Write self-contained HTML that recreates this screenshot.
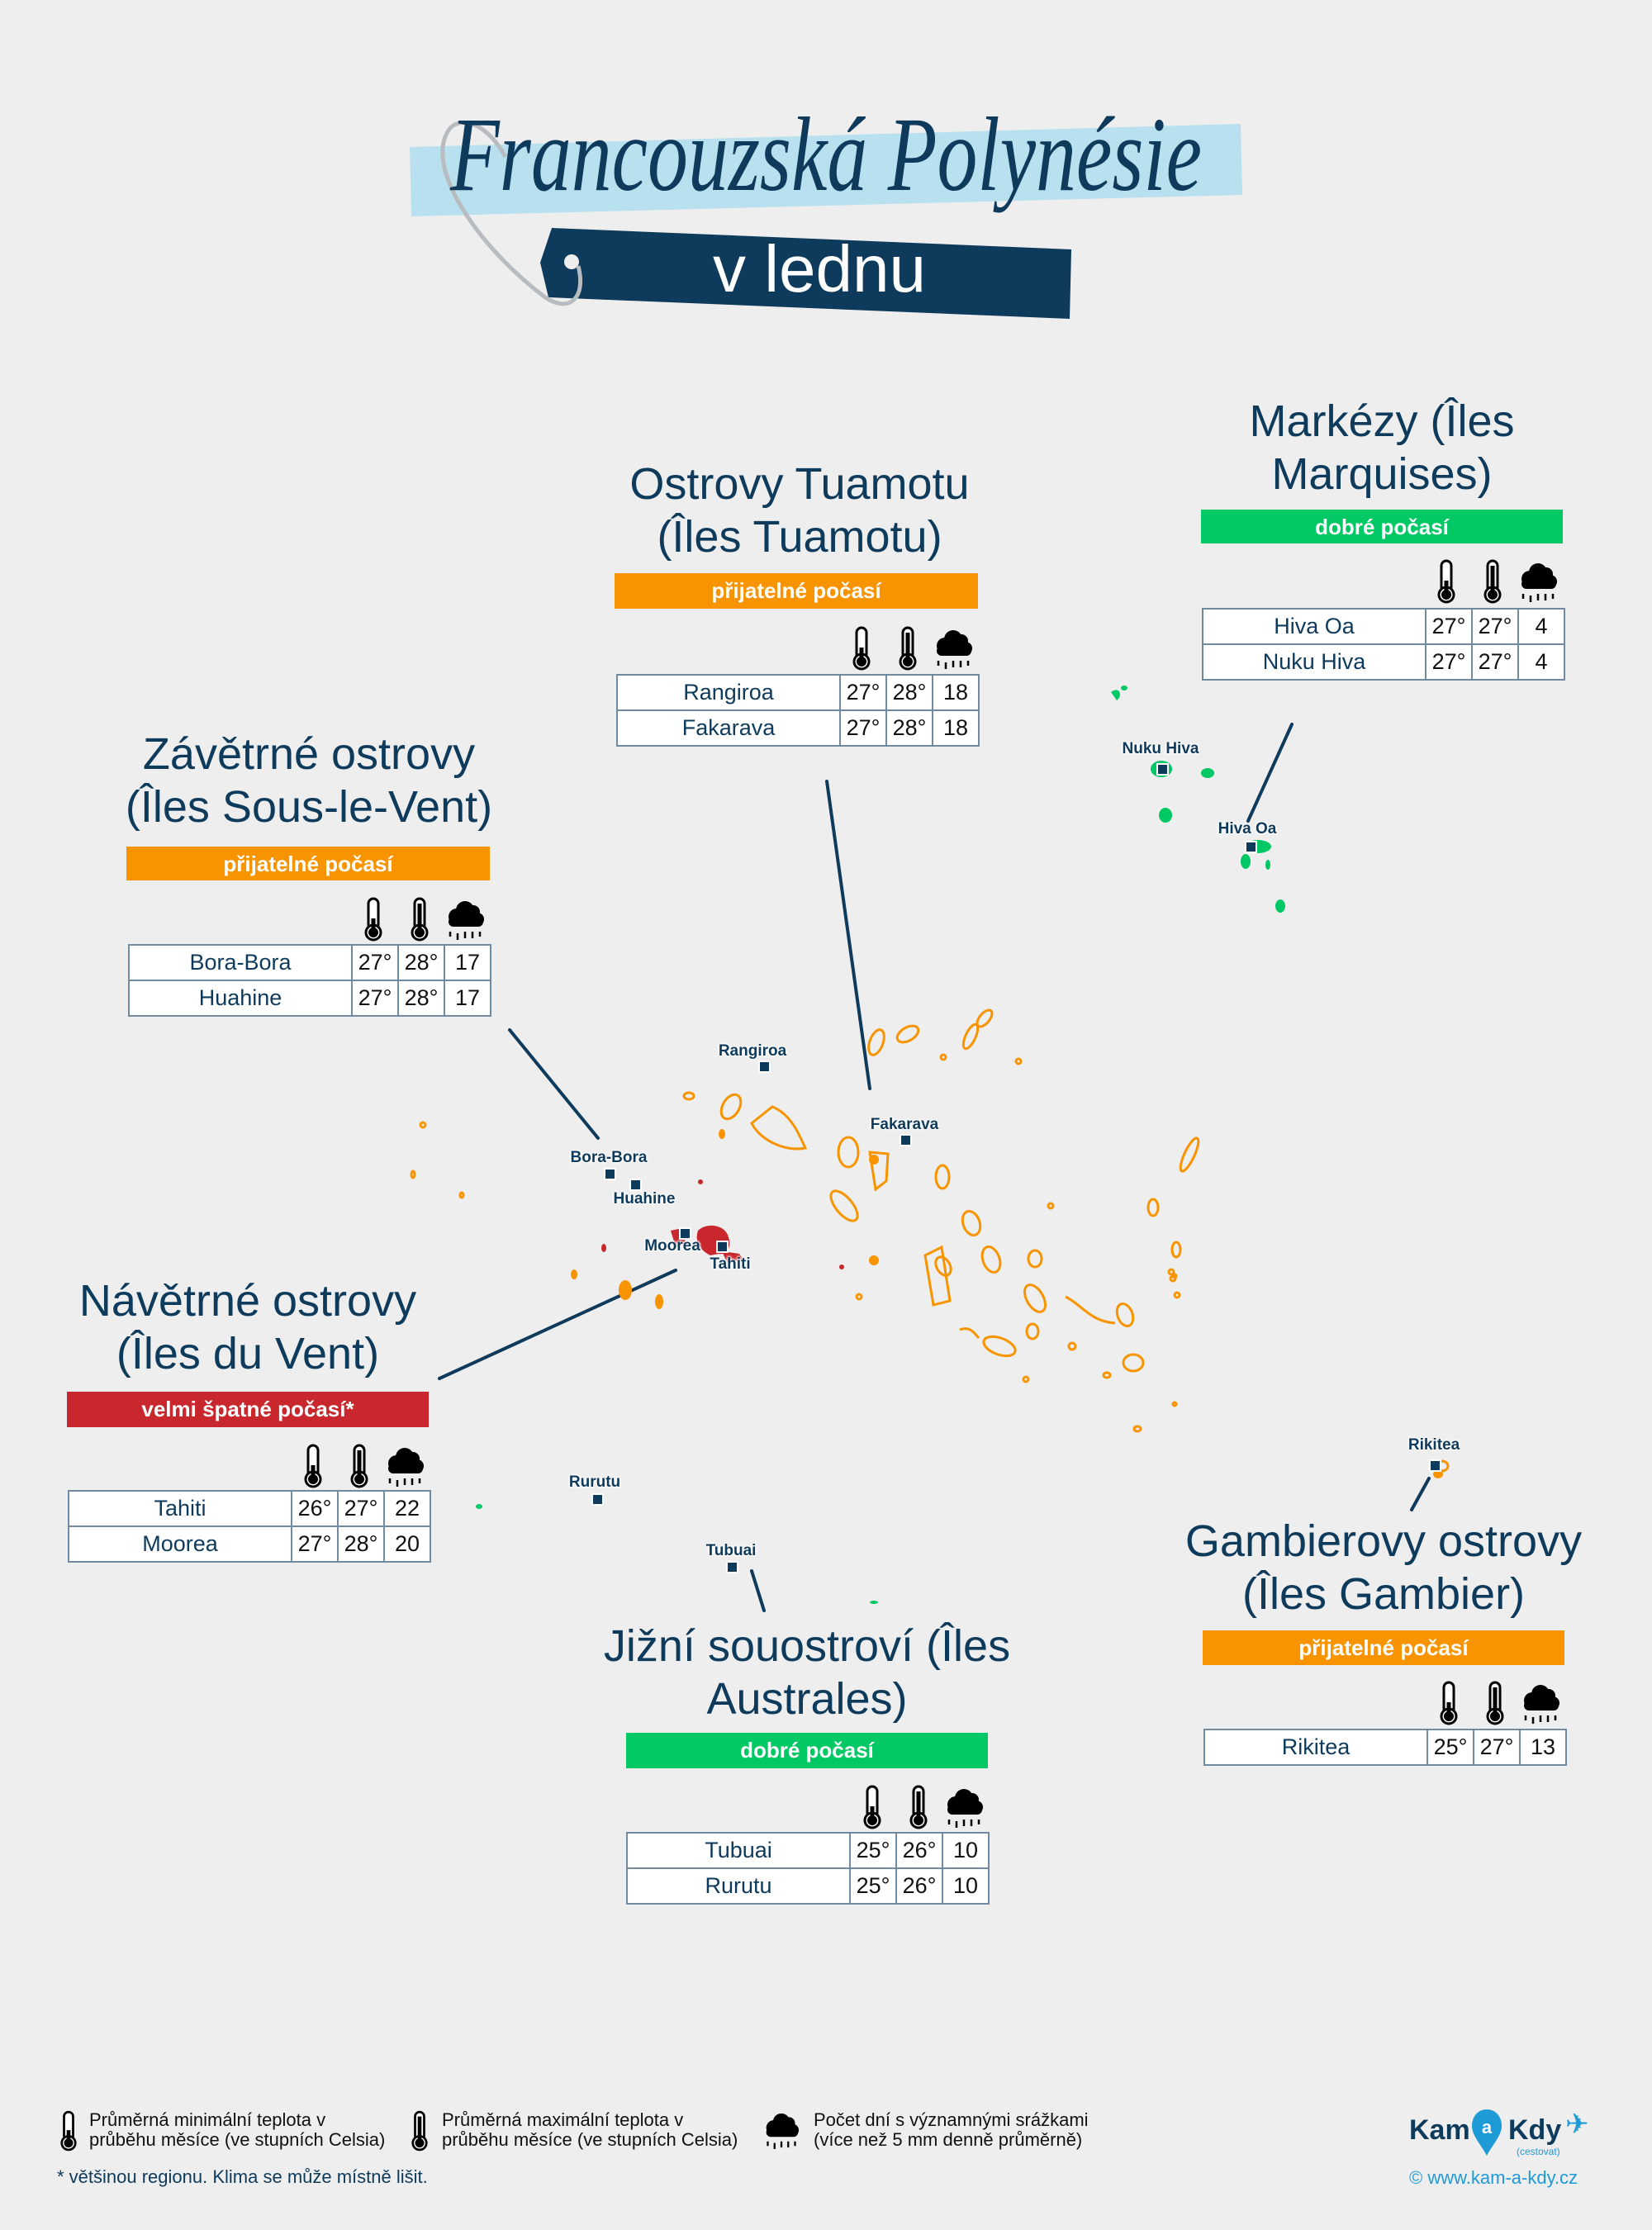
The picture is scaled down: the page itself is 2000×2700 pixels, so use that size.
<!DOCTYPE html>
<html><head><meta charset="utf-8">
<style>
body{margin:0;width:2000px;height:2700px;background:#eeeeee;position:relative;overflow:hidden;font-family:"Liberation Sans","DejaVu Sans",sans-serif;color:#0e3a5b}
.a{position:absolute}
.h{position:absolute;text-align:center;font-size:54px;line-height:64px;color:#0e3a5b;white-space:nowrap}
.band{position:absolute;color:#fff;font-weight:bold;font-size:26px;text-align:center;line-height:42px}
.o{background:#f79400}.g{background:#00c864}.r{background:#c8282d}
table{position:absolute;border-collapse:collapse;background:#fff;font-size:27px;color:#0e3a5b}
td{border:2px solid #6f8aa1;height:41px;padding:0;text-align:center}
td.n{width:268px}td.v{width:54px;color:#111}
.ml{position:absolute;font-weight:bold;font-size:19px;color:#0e3a5b;white-space:nowrap;text-shadow:0 0 3px #fff,0 0 3px #fff,0 0 3px #fff,0 0 3px #fff;transform:translateX(-50%)}
.mk{position:absolute;width:11px;height:11px;background:#0e3a5b;border:2px solid #fff}
.lg{position:absolute;font-size:22px;line-height:24px;color:#111}
</style></head><body>

<!-- Title -->
<svg class="a" style="left:0;top:0" width="2000" height="420">
<polygon points="496,178 1502,150 1504,236 498,262" fill="#b9e0ee"/>
<polygon points="668,276 1297,302 1295,386 664,360 654,318" fill="#0e3a5b"/>
<circle cx="692" cy="317" r="9" fill="#eee"/>
<path d="M700,322 C710,360 690,380 660,360 C580,300 510,200 545,155 C560,140 590,150 612,190" fill="none" stroke="#b8bcc0" stroke-width="5"/>
<text x="1000" y="230" text-anchor="middle" font-family="Liberation Serif,serif" font-style="italic" font-size="128" fill="#0e3a5b" textLength="910" lengthAdjust="spacingAndGlyphs">Francouzská  Polynésie</text>
<text x="992" y="353" text-anchor="middle" font-family="Liberation Sans,sans-serif" font-size="80" fill="#fff">v lednu</text>
</svg>

<svg width="0" height="0" style="position:absolute">
<defs>
<symbol id="tmin" viewBox="0 0 24 54"><rect x="6" y="2" width="12" height="38" rx="6" fill="#fff" stroke="#000" stroke-width="3"/><circle cx="12" cy="43" r="9" fill="#fff" stroke="#000" stroke-width="3"/><circle cx="12" cy="43" r="6" fill="#000"/><rect x="9.5" y="26" width="5" height="16" fill="#000"/></symbol>
<symbol id="tmax" viewBox="0 0 24 54"><rect x="6" y="2" width="12" height="38" rx="6" fill="#fff" stroke="#000" stroke-width="3"/><circle cx="12" cy="43" r="9" fill="#fff" stroke="#000" stroke-width="3"/><circle cx="12" cy="43" r="6" fill="#000"/><rect x="9.5" y="8" width="5" height="34" fill="#000"/></symbol>
<symbol id="rain" viewBox="0 0 48 54"><circle cx="14" cy="24" r="10" fill="#000"/><circle cx="24" cy="16" r="11" fill="#000"/><circle cx="34" cy="18" r="8" fill="#000"/><circle cx="39" cy="27" r="8" fill="#000"/><rect x="4" y="24" width="42" height="12" rx="6" fill="#000"/><g stroke="#000" stroke-width="2.5"><line x1="6" y1="42" x2="6" y2="48"/><line x1="15" y1="44" x2="15" y2="52"/><line x1="24" y1="42" x2="24" y2="50"/><line x1="33" y1="42" x2="33" y2="50"/><line x1="42" y1="42" x2="42" y2="48"/></g></symbol>
</defs></svg>

<!-- Connectors and map -->
<svg class="a" style="left:0;top:0" width="2000" height="2400">
<g stroke="#0e3a5b" stroke-width="4" stroke-linecap="round">
<line x1="1001" y1="946" x2="1053" y2="1318"/>
<line x1="1564" y1="877" x2="1511" y2="994"/>
<line x1="617" y1="1247" x2="724" y2="1378"/>
<line x1="532" y1="1669" x2="818" y2="1538"/>
<line x1="1709" y1="1828" x2="1730" y2="1790"/>
<line x1="910" y1="1902" x2="925" y2="1950"/>
</g>
<g fill="none" stroke="#f79400" stroke-width="3">
<ellipse cx="834" cy="1327" rx="6" ry="4"/>
<ellipse cx="885" cy="1340" rx="10" ry="16" transform="rotate(30 885 1340)"/>
<path d="M935,1340 C960,1350 970,1380 975,1390 C950,1395 920,1380 910,1360 Z"/>
<ellipse cx="1061" cy="1262" rx="8" ry="16" transform="rotate(20 1061 1262)"/>
<ellipse cx="1099" cy="1252" rx="14" ry="8" transform="rotate(-30 1099 1252)"/>
<ellipse cx="1175" cy="1255" rx="6" ry="16" transform="rotate(25 1175 1255)"/>
<ellipse cx="1192" cy="1233" rx="6" ry="12" transform="rotate(40 1192 1233)"/>
<ellipse cx="1027" cy="1395" rx="12" ry="18"/>
<path d="M1053,1395 L1075,1397 L1073,1430 L1060,1440 Z"/>
<ellipse cx="1022" cy="1460" rx="10" ry="22" transform="rotate(-40 1022 1460)"/>
<ellipse cx="1141" cy="1425" rx="8" ry="14"/>
<ellipse cx="1176" cy="1481" rx="10" ry="15" transform="rotate(-20 1176 1481)"/>
<path d="M1120,1520 L1130,1580 L1150,1575 L1140,1510 Z"/>
<ellipse cx="1200" cy="1525" rx="10" ry="16" transform="rotate(-20 1200 1525)"/>
<ellipse cx="1253" cy="1572" rx="10" ry="18" transform="rotate(-30 1253 1572)"/>
<ellipse cx="1250" cy="1612" rx="7" ry="9"/>
<path d="M1290,1570 C1310,1580 1320,1600 1350,1602"/>
<path d="M1162,1610 C1175,1605 1180,1615 1185,1620"/>
<ellipse cx="1210" cy="1630" rx="20" ry="10" transform="rotate(20 1210 1630)"/>
<ellipse cx="1362" cy="1592" rx="9" ry="14" transform="rotate(-20 1362 1592)"/>
<ellipse cx="1372" cy="1650" rx="12" ry="10"/>
<ellipse cx="1440" cy="1398" rx="6" ry="22" transform="rotate(25 1440 1398)"/>
<ellipse cx="1396" cy="1462" rx="6" ry="10"/>
<ellipse cx="1424" cy="1513" rx="5" ry="9"/>
<ellipse cx="1142" cy="1533" rx="8" ry="12" transform="rotate(-30 1142 1533)"/>
<ellipse cx="1253" cy="1524" rx="8" ry="10"/>
<ellipse cx="1272" cy="1460" rx="3" ry="3"/>
<ellipse cx="1233" cy="1285" rx="3" ry="3"/>
<ellipse cx="1425" cy="1568" rx="3" ry="3"/>
<ellipse cx="1418" cy="1540" rx="3" ry="3"/>
<ellipse cx="1420" cy="1548" rx="3" ry="3"/>
<ellipse cx="1377" cy="1730" rx="4" ry="3"/>
<ellipse cx="1242" cy="1670" rx="3" ry="3"/>
<ellipse cx="1298" cy="1630" rx="4" ry="4"/>
<ellipse cx="1340" cy="1665" rx="4" ry="3"/>
<ellipse cx="1422" cy="1545" rx="2" ry="2"/>
<ellipse cx="1422" cy="1700" rx="2" ry="2"/>
<ellipse cx="1040" cy="1570" rx="3" ry="3"/>
<ellipse cx="1746" cy="1775" rx="7" ry="6"/>
<ellipse cx="512" cy="1362" rx="3" ry="3"/>
<ellipse cx="500" cy="1422" rx="2" ry="4"/>
<ellipse cx="559" cy="1447" rx="2" ry="3"/>
<ellipse cx="1142" cy="1280" rx="3" ry="3"/>
</g>
<g fill="#f79400">
<ellipse cx="874" cy="1373" rx="4" ry="6"/>
<ellipse cx="1058" cy="1404" rx="6" ry="6"/>
<ellipse cx="1058" cy="1526" rx="6" ry="6"/>
<ellipse cx="757" cy="1562" rx="8" ry="12"/>
<ellipse cx="798" cy="1576" rx="5" ry="9"/>
<ellipse cx="695" cy="1543" rx="4" ry="6"/>
<ellipse cx="1741" cy="1785" rx="6" ry="5"/>
</g>
<g fill="#c8282d">
<path d="M812,1490 L826,1487 L830,1505 L818,1510 Z"/>
<path d="M845,1490 C855,1480 878,1482 882,1498 C886,1510 880,1520 870,1518 L860,1520 C850,1515 840,1505 845,1490 Z"/>
<path d="M874,1515 L895,1518 L900,1525 L880,1528 Z"/>
<ellipse cx="731" cy="1511" rx="3" ry="5"/>
<ellipse cx="848" cy="1431" rx="3" ry="3"/>
<ellipse cx="1019" cy="1534" rx="3" ry="3"/>
</g>
<g fill="#00c864">
<path d="M1345,838 C1355,830 1360,842 1352,848 Z"/><ellipse cx="1361" cy="833" rx="4" ry="3"/>
<ellipse cx="1406" cy="931" rx="13" ry="10"/>
<ellipse cx="1462" cy="936" rx="8" ry="6"/>
<ellipse cx="1411" cy="987" rx="8" ry="9"/>
<ellipse cx="1523" cy="1025" rx="16" ry="8"/>
<ellipse cx="1508" cy="1043" rx="6" ry="9"/>
<ellipse cx="1535" cy="1047" rx="3" ry="6"/>
<ellipse cx="1550" cy="1097" rx="6" ry="8"/>
<ellipse cx="580" cy="1824" rx="4" ry="3"/>
<ellipse cx="1058" cy="1940" rx="5" ry="2"/>
</g>
</svg>

<!-- map labels -->
<div class="ml" style="left:1405px;top:896px">Nuku Hiva</div><div class="mk" style="left:1400px;top:924px"></div>
<div class="ml" style="left:1510px;top:993px">Hiva Oa</div><div class="mk" style="left:1507px;top:1018px"></div>
<div class="ml" style="left:911px;top:1262px">Rangiroa</div><div class="mk" style="left:918px;top:1284px"></div>
<div class="ml" style="left:1095px;top:1351px">Fakarava</div><div class="mk" style="left:1089px;top:1373px"></div>
<div class="ml" style="left:737px;top:1391px">Bora-Bora</div><div class="mk" style="left:731px;top:1414px"></div>
<div class="ml" style="left:780px;top:1441px">Huahine</div><div class="mk" style="left:762px;top:1427px"></div>
<div class="ml" style="left:814px;top:1498px">Moorea</div><div class="mk" style="left:822px;top:1486px"></div>
<div class="ml" style="left:884px;top:1520px">Tahiti</div><div class="mk" style="left:867px;top:1502px"></div>
<div class="ml" style="left:720px;top:1784px">Rurutu</div><div class="mk" style="left:716px;top:1808px"></div>
<div class="ml" style="left:885px;top:1867px">Tubuai</div><div class="mk" style="left:879px;top:1890px"></div>
<div class="ml" style="left:1736px;top:1739px">Rikitea</div><div class="mk" style="left:1730px;top:1767px"></div>

<!-- Tuamotu -->
<div class="h" style="left:668px;width:600px;top:554px">Ostrovy Tuamotu<br>(Îles Tuamotu)</div>
<div class="band o" style="left:744px;top:694px;width:440px;height:43px">přijatelné počasí</div>
<svg class="a" style="left:1030px;top:758px" width="26" height="54"><use href="#tmin"/></svg>
<svg class="a" style="left:1086px;top:758px" width="26" height="54"><use href="#tmax"/></svg>
<svg class="a" style="left:1130px;top:758px" width="48" height="54"><use href="#rain"/></svg>
<table style="left:746px;top:816px"><tr><td class="n">Rangiroa</td><td class="v">27°</td><td class="v">28°</td><td class="v">18</td></tr><tr><td class="n">Fakarava</td><td class="v">27°</td><td class="v">28°</td><td class="v">18</td></tr></table>

<!-- Markezy -->
<div class="h" style="left:1373px;width:600px;top:478px">Markézy (Îles<br>Marquises)</div>
<div class="band g" style="left:1454px;top:617px;width:438px;height:41px">dobré počasí</div>
<svg class="a" style="left:1738px;top:677px" width="26" height="54"><use href="#tmin"/></svg>
<svg class="a" style="left:1794px;top:677px" width="26" height="54"><use href="#tmax"/></svg>
<svg class="a" style="left:1838px;top:677px" width="48" height="54"><use href="#rain"/></svg>
<table style="left:1455px;top:736px"><tr><td class="n">Hiva Oa</td><td class="v">27°</td><td class="v">27°</td><td class="v">4</td></tr><tr><td class="n">Nuku Hiva</td><td class="v">27°</td><td class="v">27°</td><td class="v">4</td></tr></table>

<!-- Zavetrne -->
<div class="h" style="left:74px;width:600px;top:881px">Závětrné ostrovy<br>(Îles Sous-le-Vent)</div>
<div class="band o" style="left:153px;top:1025px;width:440px;height:41px">přijatelné počasí</div>
<svg class="a" style="left:439px;top:1086px" width="26" height="54"><use href="#tmin"/></svg>
<svg class="a" style="left:495px;top:1086px" width="26" height="54"><use href="#tmax"/></svg>
<svg class="a" style="left:539px;top:1086px" width="48" height="54"><use href="#rain"/></svg>
<table style="left:155px;top:1143px"><tr><td class="n">Bora-Bora</td><td class="v">27°</td><td class="v">28°</td><td class="v">17</td></tr><tr><td class="n">Huahine</td><td class="v">27°</td><td class="v">28°</td><td class="v">17</td></tr></table>

<!-- Navetrne -->
<div class="h" style="left:0px;width:600px;top:1543px">Návětrné ostrovy<br>(Îles du Vent)</div>
<div class="band r" style="left:81px;top:1685px;width:438px;height:43px">velmi špatné počasí*</div>
<svg class="a" style="left:366px;top:1748px" width="26" height="54"><use href="#tmin"/></svg>
<svg class="a" style="left:422px;top:1748px" width="26" height="54"><use href="#tmax"/></svg>
<svg class="a" style="left:466px;top:1748px" width="48" height="54"><use href="#rain"/></svg>
<table style="left:82px;top:1804px"><tr><td class="n">Tahiti</td><td class="v">26°</td><td class="v">27°</td><td class="v">22</td></tr><tr><td class="n">Moorea</td><td class="v">27°</td><td class="v">28°</td><td class="v">20</td></tr></table>

<!-- Gambier -->
<div class="h" style="left:1375px;width:600px;top:1834px">Gambierovy ostrovy<br>(Îles Gambier)</div>
<div class="band o" style="left:1456px;top:1974px;width:438px;height:42px">přijatelné počasí</div>
<svg class="a" style="left:1741px;top:2035px" width="26" height="54"><use href="#tmin"/></svg>
<svg class="a" style="left:1797px;top:2035px" width="26" height="54"><use href="#tmax"/></svg>
<svg class="a" style="left:1841px;top:2035px" width="48" height="54"><use href="#rain"/></svg>
<table style="left:1457px;top:2093px"><tr><td class="n">Rikitea</td><td class="v">25°</td><td class="v">27°</td><td class="v">13</td></tr></table>

<!-- Australes -->
<div class="h" style="left:677px;width:600px;top:1961px">Jižní souostroví (Îles<br>Australes)</div>
<div class="band g" style="left:758px;top:2098px;width:438px;height:43px">dobré počasí</div>
<svg class="a" style="left:1043px;top:2161px" width="26" height="54"><use href="#tmin"/></svg>
<svg class="a" style="left:1099px;top:2161px" width="26" height="54"><use href="#tmax"/></svg>
<svg class="a" style="left:1143px;top:2161px" width="48" height="54"><use href="#rain"/></svg>
<table style="left:758px;top:2218px"><tr><td class="n">Tubuai</td><td class="v">25°</td><td class="v">26°</td><td class="v">10</td></tr><tr><td class="n">Rurutu</td><td class="v">25°</td><td class="v">26°</td><td class="v">10</td></tr></table>

<!-- Legend -->
<svg class="a" style="left:72px;top:2555px" width="22" height="50"><use href="#tmin"/></svg>
<div class="lg" style="left:108px;top:2555px">Průměrná minimální teplota v<br>průběhu měsíce (ve stupních Celsia)</div>
<svg class="a" style="left:497px;top:2555px" width="22" height="50"><use href="#tmax"/></svg>
<div class="lg" style="left:535px;top:2555px">Průměrná maximální teplota v<br>průběhu měsíce (ve stupních Celsia)</div>
<svg class="a" style="left:924px;top:2554px" width="44" height="50"><use href="#rain"/></svg>
<div class="lg" style="left:985px;top:2555px">Počet dní s významnými srážkami<br>(více než 5 mm denně průměrně)</div>
<div class="lg" style="left:69px;top:2624px;color:#0e3a5b">* většinou regionu. Klima se může místně lišit.</div>

<!-- Logo -->
<div class="a" style="left:1706px;top:2560px;font-size:34px;font-weight:bold;color:#0e3a5b">Kam</div>
<svg class="a" style="left:1780px;top:2552px" width="40" height="60"><path d="M20,2 C32,2 38,12 38,22 C38,34 26,46 20,58 C14,46 2,34 2,22 C2,12 8,2 20,2 Z" fill="#1e9ad6"/><text x="20" y="31" text-anchor="middle" font-size="22" font-weight="bold" fill="#fff" font-family="Liberation Sans">a</text></svg>
<div class="a" style="left:1826px;top:2560px;font-size:34px;font-weight:bold;color:#0e3a5b">Kdy</div>
<div class="a" style="left:1836px;top:2598px;font-size:12px;color:#1e9ad6">(cestovat)</div>
<div class="a" style="left:1895px;top:2552px;font-size:34px;color:#1e9ad6">✈</div>
<div class="a" style="left:1706px;top:2624px;font-size:22px;color:#1e9ad6">© www.kam-a-kdy.cz</div>
</body></html>
